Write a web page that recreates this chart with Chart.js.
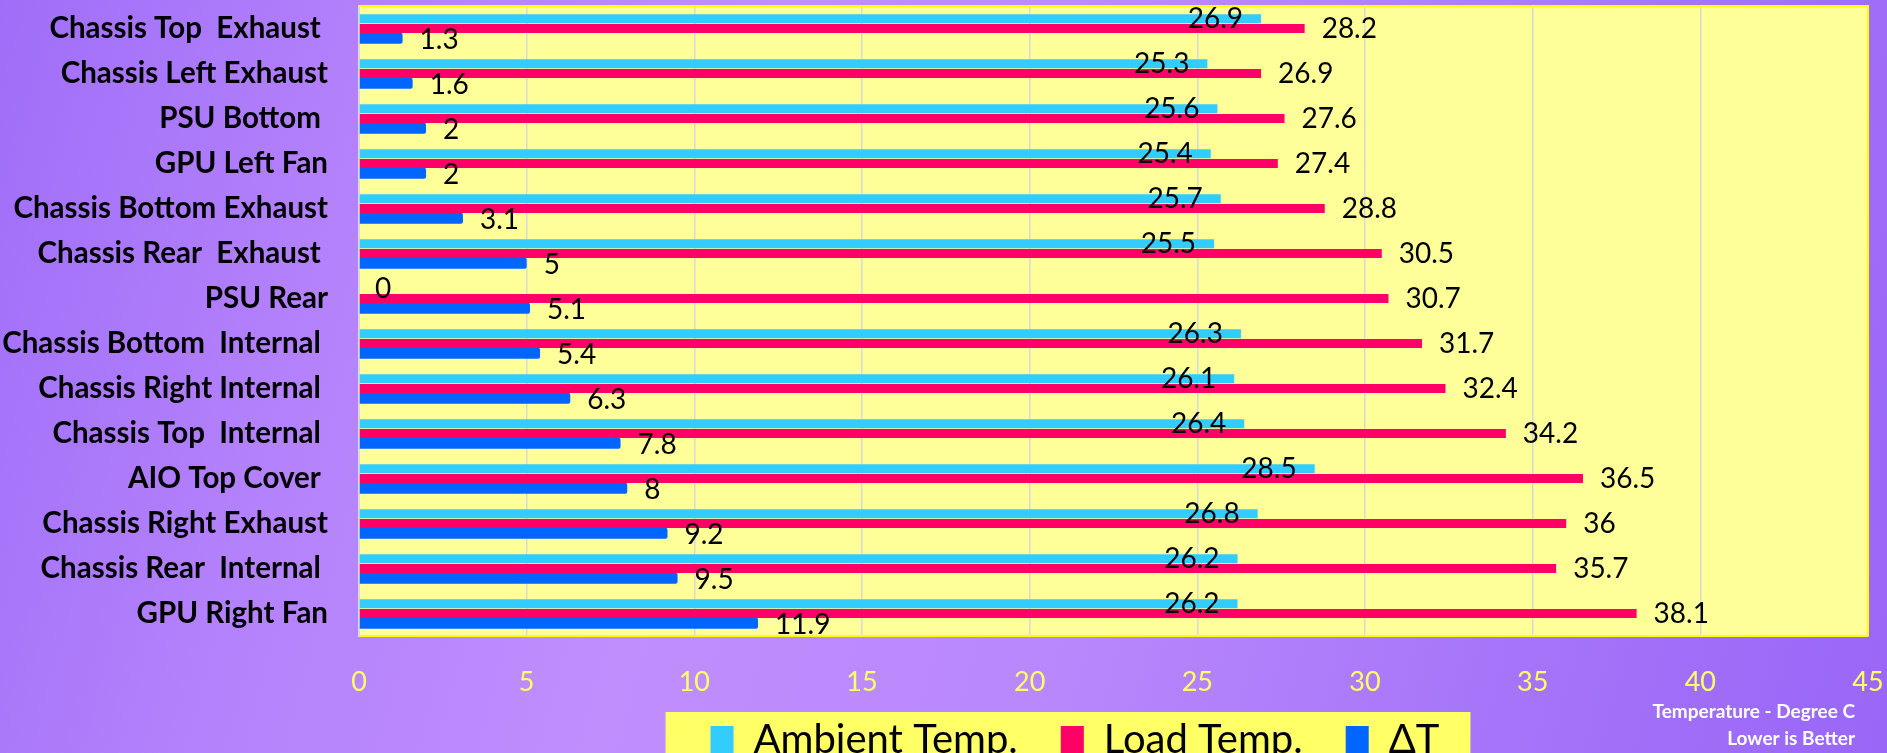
<!DOCTYPE html>
<html>
<head>
<meta charset="utf-8">
<script src="https://cdn.jsdelivr.net/npm/chart.js@4.4.1/dist/chart.umd.min.js"></script>
<style>
html, body {
    margin: 0;
    padding: 0;
    width: 1887px;
    height: 753px;
    overflow: hidden;
    background: linear-gradient(105deg, #9f6ef8 0%, #b381fb 18%, #c08efd 38%, #b887fc 60%, #a474f9 82%, #9966f7 100%);
}
canvas { display: block; }
</style>
</head>
<body>
<canvas id="temp-chart" width="1887" height="799"></canvas>
<script>
// measuring points, top to bottom as in the chart
const locations = [
    'Chassis Top  Exhaust ',
    'Chassis Left Exhaust',
    'PSU Bottom ',
    'GPU Left Fan',
    'Chassis Bottom Exhaust',
    'Chassis Rear  Exhaust ',
    'PSU Rear',
    'Chassis Bottom  Internal ',
    'Chassis Right Internal ',
    'Chassis Top  Internal ',
    'AIO Top Cover ',
    'Chassis Right Exhaust',
    'Chassis Rear  Internal ',
    'GPU Right Fan'
];
const ambientTemp = [26.9, 25.3, 25.6, 25.4, 25.7, 25.5, 0, 26.3, 26.1, 26.4, 28.5, 26.8, 26.2, 26.2];
const loadTemp = [28.2, 26.9, 27.6, 27.4, 28.8, 30.5, 30.7, 31.7, 32.4, 34.2, 36.5, 36, 35.7, 38.1];
const deltaT = [1.3, 1.6, 2, 2, 3.1, 5, 5.1, 5.4, 6.3, 7.8, 8, 9.2, 9.5, 11.9];

const seriesNames = ['Ambient Temp.', 'Load Temp.', '\u0394T'];
const axisMin = 0;
const axisMax = 45;
const axisStep = 5;
const footnote = ['Temperature - Degree C', 'Lower is Better'];

const chartDecor = {
    id: 'chartDecor',
    afterLayout(chart) {
        // legend sits right of centre, just under the tick labels
        const lg = chart.legend;
        const h = lg.height;
        lg.left = 282;
        lg.width = lg.right - lg.left;
        lg.top = chart.chartArea.bottom + 41;
        lg.bottom = lg.top + h;
    },
    beforeDraw(chart) {
        const {ctx, chartArea: a} = chart;
        ctx.save();
        ctx.fillStyle = '#FFFF99';
        ctx.fillRect(a.left, a.top, a.right - a.left, a.bottom - a.top);
        // yellow box behind the legend
        const boxes = chart.legend.legendHitBoxes;
        if (boxes && boxes.length) {
            const first = boxes[0];
            const last = boxes[boxes.length - 1];
            const left = first.left - 45;
            ctx.fillStyle = '#FFFF66';
            ctx.fillRect(left, first.top - 8, last.left + last.width + 31 - left, chart.height);
        }
        ctx.restore();
    },
    beforeDatasetsDraw(chart) {
        const {ctx, chartArea: a} = chart;
        ctx.save();
        ctx.strokeStyle = '#FFFF00';
        ctx.lineWidth = 2;
        ctx.beginPath();
        ctx.moveTo(a.left, a.top);
        ctx.lineTo(a.right, a.top);
        ctx.lineTo(a.right, a.bottom);
        ctx.stroke();
        ctx.restore();
    },
    afterDatasetsDraw(chart) {
        const {ctx, chartArea: a} = chart;
        ctx.save();
        ctx.font = '28px Lato';
        ctx.fillStyle = '#000000';
        ctx.textBaseline = 'middle';
        chart.data.datasets.forEach((ds, i) => {
            const meta = chart.getDatasetMeta(i);
            meta.data.forEach((bar, j) => {
                const text = String(ds.data[j]);
                if (i === 0) {
                    ctx.textAlign = 'right';
                    const w = ctx.measureText(text).width;
                    ctx.fillText(text, Math.max(bar.x - 18, a.left + 16 + w), bar.y);
                } else {
                    ctx.textAlign = 'left';
                    ctx.fillText(text, bar.x + 17, bar.y + (i === 2 ? 2 : 0));
                }
            });
        });
        ctx.restore();
    },
    afterDraw(chart) {
        const {ctx, chartArea: a} = chart;
        ctx.save();
        ctx.font = 'bold 19px Lato';
        ctx.fillStyle = '#FFFFFF';
        ctx.textAlign = 'right';
        ctx.textBaseline = 'middle';
        ctx.fillText(footnote[0], a.right - 13, 712);
        ctx.fillText(footnote[1], a.right - 13, 739);
        ctx.restore();
    }
};

const canvas = document.querySelector('#temp-chart');

new Chart(canvas.getContext('2d'), {
    type: 'bar',
    data: {
        labels: locations,
        datasets: [
            {
                label: seriesNames[0],
                data: ambientTemp,
                backgroundColor: '#33CCFF',
                barPercentage: 0.9,
                categoryPercentage: 0.65
            },
            {
                label: seriesNames[1],
                data: loadTemp,
                backgroundColor: '#FF0066',
                barPercentage: 0.9,
                categoryPercentage: 0.65
            },
            {
                label: seriesNames[2],
                data: deltaT,
                backgroundColor: '#0066FF',
                barPercentage: 1.15,
                categoryPercentage: 0.65,
                borderRadius: 2
            }
        ]
    },
    options: {
        indexAxis: 'y',
        responsive: false,
        animation: false,
        devicePixelRatio: 1,
        layout: {
            padding: {top: 6, right: 19, bottom: 0, left: 0}
        },
        scales: {
            x: {
                min: axisMin,
                max: axisMax,
                ticks: {
                    stepSize: axisStep,
                    color: '#FFFF66',
                    padding: 30,
                    font: {family: 'Lato', size: 27}
                },
                grid: {color: '#D9D9D9', lineWidth: 1.5, drawTicks: false},
                border: {color: '#FFFF00', width: 2},
                afterFit(scale) {
                    scale.height = 70;
                    scale.paddingLeft = 0;
                    scale.paddingRight = 0;
                }
            },
            y: {
                ticks: {
                    color: '#000000',
                    padding: 31,
                    autoSkip: false,
                    font: {family: 'Lato', size: 29.5, weight: 'bold'}
                },
                grid: {display: false, drawTicks: false},
                border: {display: true, color: '#D9D9D9', width: 2},
                afterFit(scale) {
                    scale.width = 359;
                    scale.paddingTop = 0;
                    scale.paddingBottom = 0;
                }
            }
        },
        plugins: {
            legend: {
                position: 'bottom',
                labels: {
                    boxWidth: 23,
                    boxHeight: 28,
                    padding: 43,
                    color: '#000000',
                    font: {family: 'Lato', size: 40}
                }
            },
            tooltip: {enabled: false}
        }
    },
    plugins: [chartDecor]
});
</script>
</body>
</html>
